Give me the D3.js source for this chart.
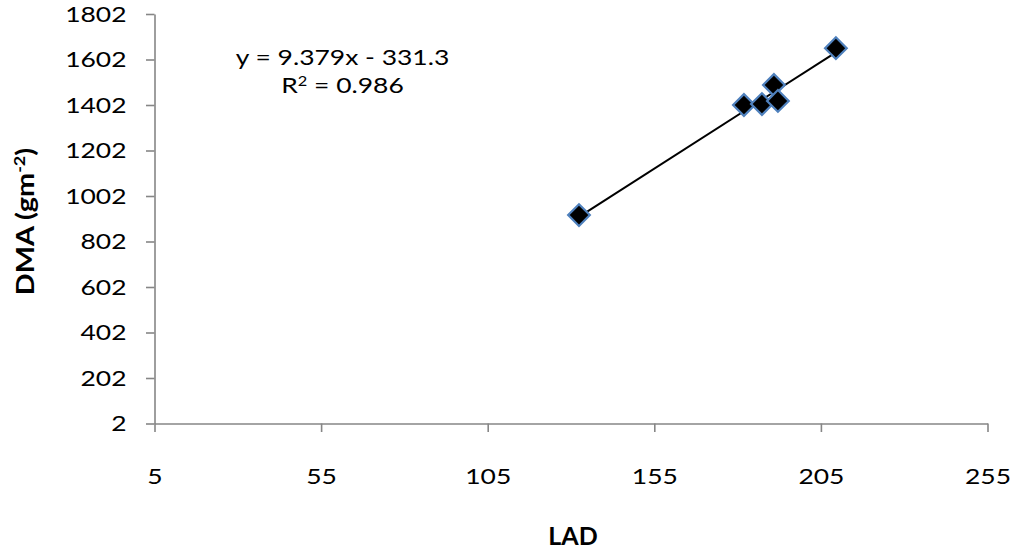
<!DOCTYPE html>
<html>
<head>
<meta charset="utf-8">
<script src="https://cdn.jsdelivr.net/npm/d3@7"></script>
<style>
  html, body { margin: 0; padding: 0; background: #fff; }
  svg { display: block; }
  text { font-family: Lato, "Open Sans", sans-serif; fill: #000; }
</style>
</head>
<body>
<svg id="chart" width="1019" height="552"></svg>
<script>
// Data
const ladValues = [132.4, 181.9, 187.3, 190.9, 192.1, 209.5];
const dmaValues = [918, 1402, 1406, 1490, 1420, 1652];
const xTicks = [5, 55, 105, 155, 205, 255];
const yTicks = [2, 202, 402, 602, 802, 1002, 1202, 1402, 1602, 1802];
const slope = 9.379;
const intercept = -331.3;
const equationText = "y = 9.379x - 331.3";
const r2Value = "0.986";
const xTitle = "LAD";

const svg = d3.select("#chart");
const sx = 1.26; // horizontal text stretch (source image is stretched)
const plotLeft = 154.5, plotRight = 987.5, plotTop = 14, plotBottom = 423.5;
const axisColor = "#868686";

const x = d3.scaleLinear().domain([5, 255]).range([plotLeft, plotRight]);
const y = d3.scaleLinear().domain([2, 1802]).range([plotBottom, plotTop]);

// Y axis
const gy = svg.append("g").attr("transform", `translate(${plotLeft},0)`)
  .call(d3.axisLeft(y).tickValues(yTicks).tickFormat(d3.format("d"))
    .tickSize(8.5).tickSizeOuter(0).tickPadding(0));
gy.select(".domain").attr("stroke", axisColor).attr("stroke-width", 1.6);
gy.selectAll(".tick line").attr("stroke", axisColor).attr("stroke-width", 1.6);
gy.selectAll(".tick text")
  .attr("x", -28 / sx).attr("dy", "0.35em")
  .attr("transform", `scale(${sx},1)`)
  .attr("fill", "#000")
  .style("font-size", "21px");

// X axis
const gx = svg.append("g").attr("transform", `translate(0,${plotBottom})`)
  .call(d3.axisBottom(x).tickValues(xTicks).tickFormat(d3.format("d"))
    .tickSize(8.5).tickSizeOuter(0).tickPadding(0));
gx.select(".domain").attr("stroke", axisColor).attr("stroke-width", 1.6);
gx.selectAll(".tick line").attr("stroke", axisColor).attr("stroke-width", 1.6);
gx.selectAll(".tick text")
  .attr("y", 53).attr("dy", "0.35em")
  .attr("transform", `scale(${sx},1)`)
  .attr("fill", "#000")
  .style("font-size", "21px");

// Regression line
const xmin = d3.min(ladValues), xmax = d3.max(ladValues);
svg.append("line")
  .attr("x1", x(xmin)).attr("y1", y(slope * xmin + intercept))
  .attr("x2", x(xmax)).attr("y2", y(slope * xmax + intercept))
  .attr("stroke", "#000").attr("stroke-width", 2);

// Markers (diamonds)
const diamond = d3.symbol().type(d3.symbolSquare).size(235);
svg.append("g").selectAll("path")
  .data(ladValues.map((v, i) => [v, dmaValues[i]]))
  .join("path")
  .attr("d", diamond)
  .attr("transform", d => `translate(${x(d[0])},${y(d[1])}) rotate(45)`)
  .attr("fill", "#000")
  .attr("stroke", "#4f81bd")
  .attr("stroke-width", 2.2);

// Equation text
const eq = svg.append("g").attr("transform", `translate(342.5,0) scale(${sx},1)`);
eq.append("text").attr("x", 0).attr("y", 65).attr("text-anchor", "middle")
  .style("font-size", "21px").text(equationText);
const r2 = eq.append("text").attr("x", 0).attr("y", 93).attr("text-anchor", "middle")
  .style("font-size", "21px");
r2.append("tspan").text("R");
r2.append("tspan").text("2").attr("dy", -7).style("font-size", "13px");
r2.append("tspan").text(" = " + r2Value).attr("dy", 7);

// X title
svg.append("text").attr("x", 573).attr("y", 545).attr("text-anchor", "middle")
  .style("font-size", "25px").style("font-weight", "bold").text(xTitle);

// Y title
const yt = svg.append("g").attr("transform", `translate(34,221.5) rotate(-90) scale(1.2,1)`)
  .append("text").attr("x", 0).attr("y", 0).attr("text-anchor", "middle")
  .style("font-size", "24px").style("font-weight", "bold");
yt.append("tspan").text("DMA (gm");
yt.append("tspan").text("-2").attr("dy", -9).style("font-size", "15px");
yt.append("tspan").text(")").attr("dy", 9);
</script>
</body>
</html>
